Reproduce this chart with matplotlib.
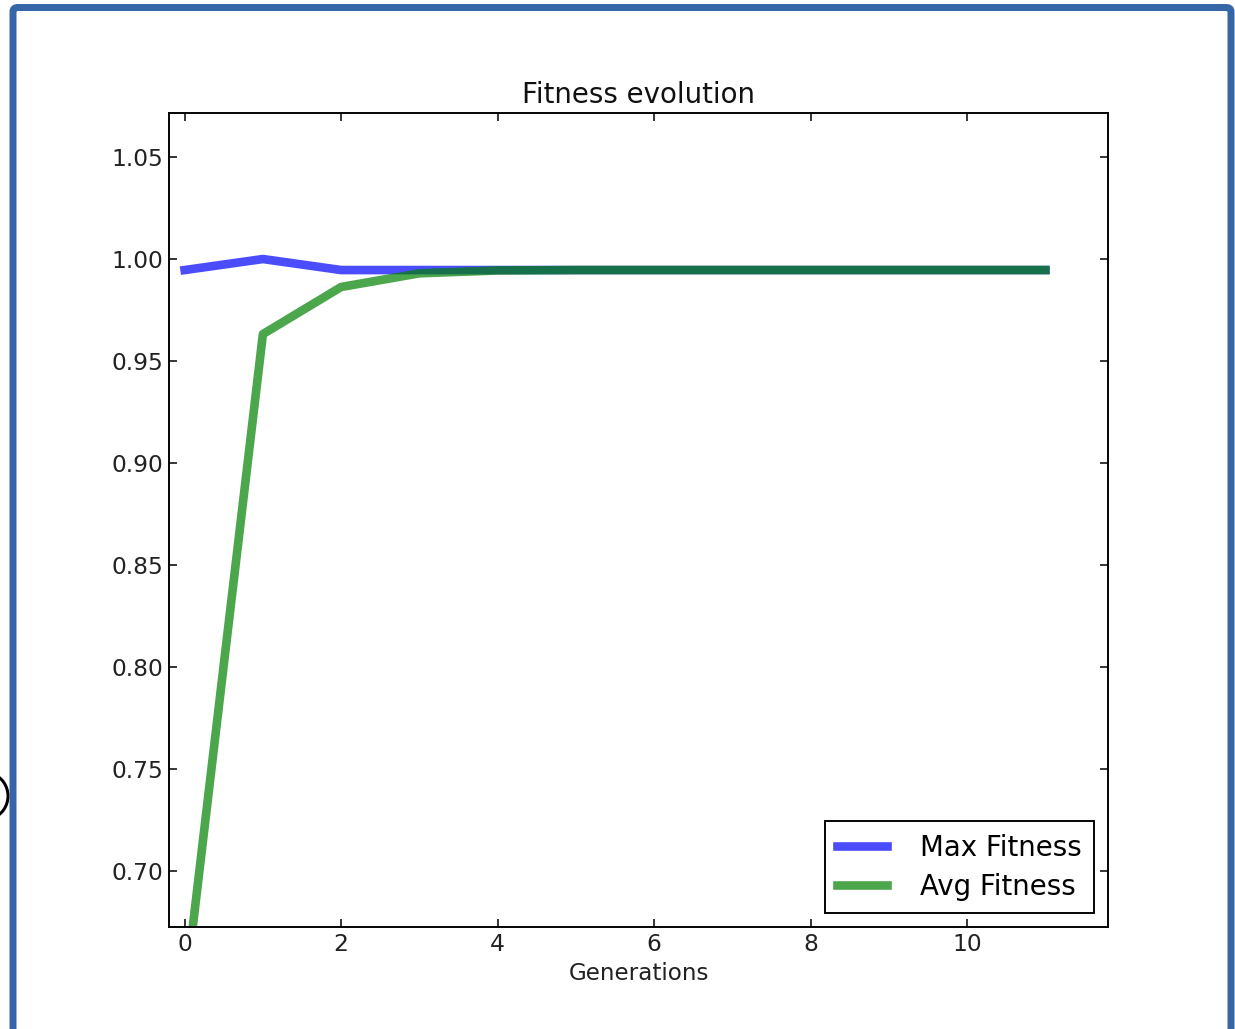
import matplotlib
matplotlib.use("Agg")
import matplotlib.pyplot as plt
from matplotlib.patches import FancyBboxPatch, Arc
from matplotlib.transforms import IdentityTransform

generations = list(range(12))
max_fitness = [0.9946, 1.0000, 0.9946, 0.9946, 0.9946, 0.9946, 0.9946, 0.9946, 0.9946, 0.9946, 0.9946, 0.9946]
avg_fitness = [0.639, 0.9632, 0.9863, 0.9930, 0.9944, 0.9946, 0.9946, 0.9946, 0.9946, 0.9946, 0.9946, 0.9946]
title = "Fitness evolution"
xlabel = "Generations"
labels = ["Max Fitness", "Avg Fitness"]

W, H = 1235, 1029
DPI = 138
fig = plt.figure(figsize=(W / DPI, H / DPI), dpi=DPI)
fig.patch.set_facecolor("white")

# partial circle at the left edge (drawn first, under the frame)
arc = Arc((-16, H - 796), 48, 48, theta1=-70, theta2=70, transform=IdentityTransform(),
          edgecolor="black", linewidth=3 * 72 / DPI, fill=False)
fig.patches.append(arc)
# screenshot frame
frame = FancyBboxPatch((13 / W, -0.05), (1231 - 13) / W, (H - 7.5) / H + 0.05,
                       boxstyle="round,pad=0,rounding_size=0.004",
                       transform=fig.transFigure, fill=False, edgecolor="#3566a8",
                       linewidth=7 * 72 / DPI)
fig.patches.append(frame)

ax = fig.add_axes([169 / W, 1 - 927 / H, (1108 - 169) / W, (927 - 113) / H])
ax.plot(generations, max_fitness, color="b", alpha=0.7, linewidth=4.5, label=labels[0])
ax.plot(generations, avg_fitness, color="g", alpha=0.7, linewidth=4.5, label=labels[1])
ax.set_xlim(-0.2, 11.8)
ax.set_ylim(0.6725, 1.0716)
ax.set_xticks([0, 2, 4, 6, 8, 10])
yt = [0.70, 0.75, 0.80, 0.85, 0.90, 0.95, 1.00, 1.05]
ax.set_yticks(yt)
ax.set_yticklabels(["%.2f" % v for v in yt])
ax.tick_params(direction="in", length=4, width=0.8, labelsize=12.2, top=True, right=True, pad=3,
               colors="black", labelcolor="#222222")
for s in ax.spines.values():
    s.set_linewidth(1.0)
ax.set_title(title, fontsize=14.4, pad=5, color="#111111")
ax.set_xlabel(xlabel, fontsize=12, labelpad=3, color="#222222")
leg = ax.legend(loc="lower right", fontsize=14.4, fancybox=False, edgecolor="black",
                framealpha=1, handlelength=1.8, handletextpad=1.2, borderaxespad=0.5,
                borderpad=0.45, labelspacing=0.4)
leg.get_frame().set_linewidth(1.0)

fig.savefig("out.png", dpi=DPI)
